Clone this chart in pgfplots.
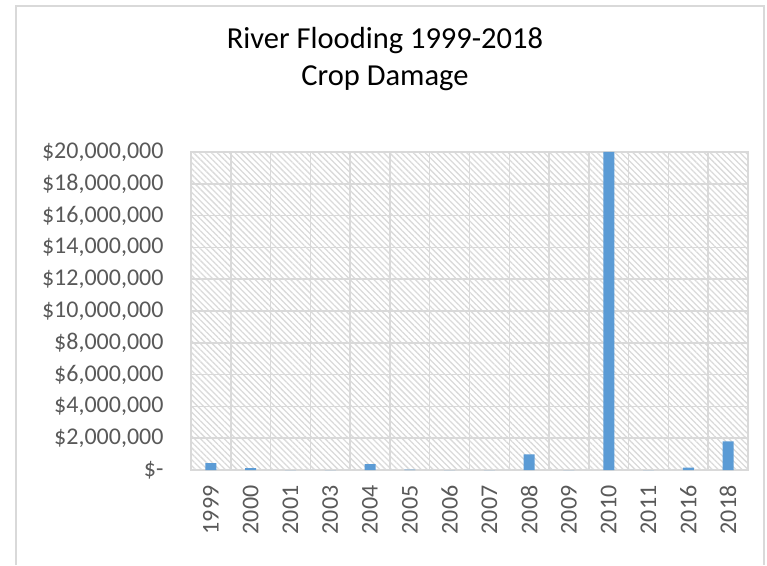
\documentclass[border=0pt]{standalone}
\usepackage{pgfplots}
\pgfplotsset{compat=1.18}
\usepackage{fontspec}
\setmainfont{Carlito}
\usetikzlibrary{patterns.meta}
\definecolor{barblue}{HTML}{5B9BD5}
\definecolor{gridgray}{HTML}{D9D9D9}
\definecolor{txtgray}{HTML}{595959}
\definecolor{hatch}{HTML}{DADADA}
\begin{document}
\begin{tikzpicture}[x=1pt,y=1pt]
\useasboundingbox (0,0) rectangle (767,565);
\draw[gridgray, line width=1.5pt] (16,0) -- (16,559) -- (764,559) -- (764,0);
\node[anchor=base, font=\fontsize{30.5}{34}\selectfont] at (385,516) {River Flooding 1999-2018};
\node[anchor=base, font=\fontsize{30.5}{34}\selectfont] at (385,479) {Crop Damage};
\begin{axis}[
  at={(191pt,95pt)}, anchor=south west,
  scale only axis, width=557pt, height=318pt,
  ymin=0, ymax=20000000,
  xmin=-0.5, xmax=13.5,
  ytick={0,2000000,4000000,6000000,8000000,10000000,12000000,14000000,16000000,18000000,20000000},
  yticklabels={\$-,{\$2,000,000},{\$4,000,000},{\$6,000,000},{\$8,000,000},{\$10,000,000},{\$12,000,000},{\$14,000,000},{\$16,000,000},{\$18,000,000},{\$20,000,000}},
  xtick={0,...,13},
  xticklabels={1999,2000,2001,2003,2004,2005,2006,2007,2008,2009,2010,2011,2016,2018},
  x tick label style={rotate=90, anchor=east, font=\fontsize{24}{24}\selectfont, text=txtgray, xshift=-12pt},
  y tick label style={anchor=east, font=\fontsize{24}{24}\selectfont, text=txtgray, xshift=-24pt},
  /pgf/number format/assume math mode=true,
  scaled y ticks=false,
  major tick length=0pt,
  extra x ticks={-0.5,0.5,1.5,2.5,3.5,4.5,5.5,6.5,7.5,8.5,9.5,10.5,11.5,12.5,13.5},
  extra x tick labels={},
  extra x tick style={grid=major},
  xmajorgrids=false,
  ymajorgrids=true,
  grid style={draw=gridgray, line width=1.5pt},
  axis line style={draw=gridgray, line width=1.5pt},
  axis background/.style={pattern={Lines[angle=-45,distance=4.2pt,line width=1.3pt]}, pattern color=hatch},
  ybar, bar width=11pt,
  clip=true,
]
\addplot[fill=barblue, draw=none, bar shift=0pt] coordinates {
(0,440000) (1,126000) (2,0) (3,0) (4,377000) (5,20000) (6,0) (7,0) (8,990000) (9,0) (10,20000000) (11,0) (12,145000) (13,1800000)};
\end{axis}
\end{tikzpicture}
\end{document}
